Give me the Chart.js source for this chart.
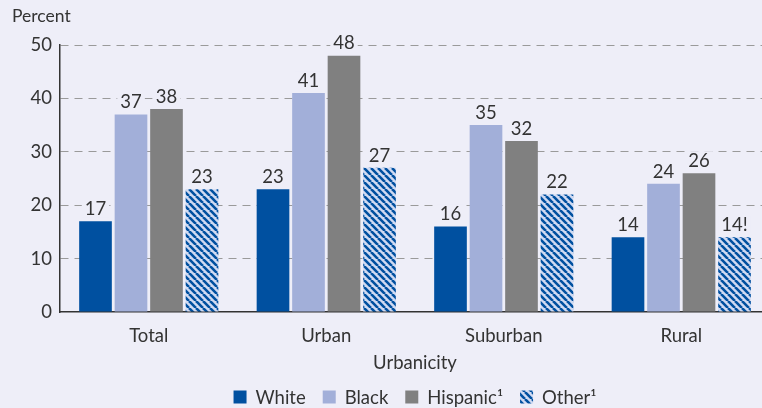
<!DOCTYPE html>
<html>
<head>
<meta charset="utf-8">
<script src="https://cdn.jsdelivr.net/npm/chart.js@4.4.1/dist/chart.umd.min.js"></script>
<style>
  html, body { margin: 0; padding: 0; background: #eeeef8; overflow: hidden; }
  #wrap { width: 770px; height: 408px; position: relative; }
</style>
</head>
<body>
<div id="wrap"><canvas id="chart" width="770" height="408"></canvas></div>
<script>
// Data
const categories = ['Total', 'Urban', 'Suburban', 'Rural'];
const whiteValues = [17, 23, 16, 14];
const blackValues = [37, 41, 35, 24];
const hispanicValues = [38, 48, 32, 26];
const otherValues = [23, 27, 22, 14];
const otherLabels = ['23', '27', '22', '14!'];
const seriesNames = ['White', 'Black', 'Hispanic\u00B9', 'Other\u00B9'];

const FONT = 'Lato, "Open Sans", sans-serif';
const FS = 18.5;
const TEXT = '#333333';
const BG = '#eeeef8';

// diagonal stripe pattern for "Other"
function makeStripes() {
    const size = 7;
    const c = document.createElement('canvas');
    c.width = size;
    c.height = size;
    const g = c.getContext('2d');
    g.fillStyle = '#d0daf2';
    g.fillRect(0, 0, size, size);
    g.strokeStyle = '#0050a0';
    g.lineWidth = 2.6;
    g.beginPath();
    for (let k = -1; k <= 1; k++) {
        g.moveTo(k * size, 0);
        g.lineTo(k * size + size, size);
    }
    g.stroke();
    return g.createPattern(c, 'repeat');
}

// value labels above bars, "Percent" title and the legend row
const labelPlugin = {
    id: 'labels',
    afterDatasetsDraw(chart) {
        const ctx = chart.ctx;
        ctx.save();
        ctx.font = FS + 'px ' + FONT;
        ctx.textAlign = 'center';
        ctx.textBaseline = 'bottom';
        chart.data.datasets.forEach((ds, i) => {
            const meta = chart.getDatasetMeta(i);
            meta.data.forEach((bar, j) => {
                const txt = ds.labels ? ds.labels[j] : String(ds.data[j]);
                const w = ctx.measureText(txt).width;
                ctx.fillStyle = BG;
                ctx.fillRect(bar.x - w / 2 - 3, bar.y - 22, w + 6, 18);
                ctx.fillStyle = TEXT;
                ctx.fillText(txt, bar.x, bar.y - 3);
            });
        });

        // "Percent"
        ctx.textAlign = 'left';
        ctx.textBaseline = 'alphabetic';
        ctx.font = '17.5px ' + FONT;
        ctx.fillText('Percent', 12, 22);

        // legend, centred on the plot area
        ctx.font = FS + 'px ' + FONT;
        ctx.textBaseline = 'middle';
        const box = 13, boxGap = 9, itemGap = 17;
        const ds = chart.data.datasets;
        const widths = ds.map(d => box + boxGap + ctx.measureText(d.label).width);
        const total = widths.reduce((a, b) => a + b, 0) + itemGap * (ds.length - 1);
        const area = chart.chartArea;
        let x = (area.left + area.right) / 2 - total / 2;
        const y = 397;
        ds.forEach((d, i) => {
            ctx.fillStyle = d.backgroundColor;
            ctx.fillRect(x, y - box / 2, box, box);
            ctx.fillStyle = TEXT;
            ctx.fillText(d.label, x + box + boxGap, y + 1);
            x += widths[i] + itemGap;
        });
        ctx.restore();
    }
};

const stripes = makeStripes();

new Chart(document.getElementById('chart'), {
    type: 'bar',
    data: {
        labels: categories,
        datasets: [
            { label: seriesNames[0], data: whiteValues, backgroundColor: '#0050a0' },
            { label: seriesNames[1], data: blackValues, backgroundColor: '#a2afd9' },
            { label: seriesNames[2], data: hispanicValues, backgroundColor: '#808080' },
            { label: seriesNames[3], data: otherValues, labels: otherLabels, backgroundColor: stripes }
        ]
    },
    options: {
        responsive: false,
        animation: false,
        categoryPercentage: 0.8,
        barPercentage: 0.92,
        layout: { padding: { top: 45, left: 0, right: 0, bottom: 30 } },
        plugins: {
            legend: { display: false },
            tooltip: { enabled: false }
        },
        scales: {
            y: {
                min: 0,
                max: 50,
                ticks: {
                    stepSize: 10,
                    color: TEXT,
                    font: { family: FONT, size: FS },
                    padding: 8
                },
                grid: {
                    color: (c) => c.tick.value === 0 ? 'rgba(0,0,0,0)' : '#9a9a9a',
                    drawTicks: false,
                    lineWidth: 1
                },
                border: { display: true, color: '#333333', width: 1.5, dash: [8, 6] },
                afterFit(scale) { scale.width = 60; }
            },
            x: {
                grid: { display: false },
                border: { display: true, color: '#333333', width: 1.5 },
                ticks: {
                    color: TEXT,
                    font: { family: FONT, size: FS },
                    padding: 5
                },
                title: {
                    display: true,
                    text: 'Urbanicity',
                    color: TEXT,
                    font: { family: FONT, size: FS },
                    padding: { top: 0, bottom: 4 }
                },
                afterFit(scale) { scale.height = 66; }
            }
        }
    },
    plugins: [labelPlugin]
});
</script>
</body>
</html>
